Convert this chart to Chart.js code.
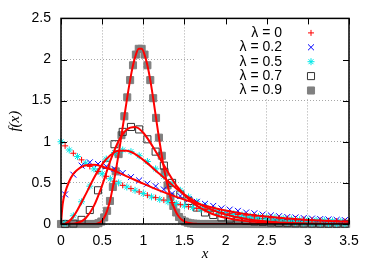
<!DOCTYPE html>
<html>
<head>
<meta charset="utf-8">
<script src="https://cdn.jsdelivr.net/npm/chart.js@4.4.0/dist/chart.umd.min.js"></script>
<style>
  html, body { margin: 0; padding: 0; background: #fff; }
  canvas { display: block; }
</style>
</head>
<body>
<canvas id="c" width="374" height="262"></canvas>
<script>
// legend labels
const lamLabels = ['λ = 0', 'λ = 0.2', 'λ = 0.5', 'λ = 0.7', 'λ = 0.9'];

// axis ticks
const xTicks = [0, 0.5, 1, 1.5, 2, 2.5, 3, 3.5];
const yTicks = [0, 0.5, 1, 1.5, 2, 2.5];

// histogram points, bins of 0.1
const x01 = [0.05, 0.15, 0.25, 0.35, 0.45, 0.55, 0.65, 0.75, 0.85, 0.95,
  1.05, 1.15, 1.25, 1.35, 1.45, 1.55, 1.65, 1.75, 1.85, 1.95,
  2.05, 2.15, 2.25, 2.35, 2.45, 2.55, 2.65, 2.75, 2.85, 2.95,
  3.05, 3.15, 3.25, 3.35, 3.45];
const lam0 = [0.95, 0.86, 0.78, 0.70, 0.64, 0.58, 0.52, 0.47, 0.43, 0.39,
  0.35, 0.32, 0.29, 0.26, 0.235, 0.21, 0.19, 0.175, 0.16, 0.14,
  0.13, 0.115, 0.107, 0.095, 0.088, 0.078, 0.072, 0.065, 0.058, 0.054,
  0.047, 0.044, 0.038, 0.036, 0.031];
const lam02 = [0.36, 0.60, 0.71, 0.75, 0.73, 0.70, 0.67, 0.62, 0.57, 0.53,
  0.49, 0.46, 0.42, 0.37, 0.34, 0.30, 0.27, 0.245, 0.22, 0.19,
  0.175, 0.16, 0.14, 0.13, 0.115, 0.105, 0.095, 0.085, 0.08, 0.072,
  0.066, 0.06, 0.056, 0.05, 0.047];
const lam05 = [0.01, 0.10, 0.27, 0.46, 0.64, 0.79, 0.87, 0.90, 0.88, 0.83,
  0.76, 0.67, 0.58, 0.49, 0.41, 0.33, 0.27, 0.22, 0.18, 0.14,
  0.115, 0.09, 0.075, 0.058, 0.048, 0.037, 0.03, 0.024, 0.018, 0.015,
  0.011, 0.009, 0.007, 0.005, 0.004];
const lam07 = [0, 0.005, 0.05, 0.17, 0.41, 0.72, 0.97, 1.12, 1.18, 1.15,
  1.03, 0.88, 0.71, 0.50, 0.36, 0.28, 0.20, 0.14, 0.11, 0.08,
  0.065, 0.05, 0.04, 0.03, 0.024, 0.018, 0.014, 0.011, 0.008, 0.006,
  0.005, 0.004, 0.003, 0.002, 0.002];

// second block of the λ = 0.5 file (lies on the exponential)
const xE = [0, 0.1, 0.2, 0.3, 0.4, 0.5, 0.6, 0.7, 0.8, 0.9,
  1.0, 1.1, 1.2, 1.3, 1.4, 1.5, 1.6, 1.7, 1.8, 1.9,
  2.0, 2.1, 2.2, 2.3, 2.4, 2.5, 2.6, 2.7, 2.8, 2.9,
  3.0, 3.1, 3.2, 3.3, 3.4];
const lam05b = [1.0, 0.90, 0.82, 0.74, 0.67, 0.61, 0.55, 0.50, 0.45, 0.41,
  0.37, 0.33, 0.30, 0.27, 0.25, 0.22, 0.20, 0.18, 0.165, 0.15,
  0.135, 0.125, 0.11, 0.095, 0.09, 0.083, 0.078, 0.067, 0.061, 0.052,
  0.05, 0.045, 0.044, 0.037, 0.033];

// λ = 0.9, fine bins of 0.035
const xG = [0, 0.035, 0.07, 0.105, 0.14, 0.175, 0.21, 0.245, 0.28, 0.315,
  0.35, 0.385, 0.42, 0.455, 0.49, 0.525, 0.56, 0.595, 0.63, 0.665,
  0.7, 0.735, 0.77, 0.805, 0.84, 0.875, 0.91, 0.945, 0.98, 1.015,
  1.05, 1.085, 1.12, 1.155, 1.19, 1.225, 1.26, 1.295, 1.33, 1.365,
  1.4, 1.435, 1.47, 1.505, 1.54, 1.575, 1.61, 1.645, 1.68, 1.715,
  1.75, 1.785, 1.82, 1.855, 1.89, 1.925, 1.96, 1.995, 2.03, 2.065,
  2.1, 2.135, 2.17, 2.205, 2.24, 2.275, 2.31, 2.345, 2.38, 2.415,
  2.45, 2.485, 2.52, 2.555, 2.59, 2.625, 2.66, 2.695, 2.73, 2.765,
  2.8, 2.835, 2.87, 2.905, 2.94, 2.975, 3.01, 3.045, 3.08, 3.115,
  3.15, 3.185, 3.22, 3.255, 3.29, 3.325, 3.36, 3.395, 3.43, 3.465];
const lam09 = [0, 0, 0, 0, 0, 0, 0, 0, 0, 0,
  0, 0, 0, 0.01, 0.03, 0.08, 0.16, 0.28, 0.45, 0.64,
  0.85, 1.08, 1.31, 1.54, 1.75, 1.93, 2.06, 2.13, 2.13, 2.06,
  1.93, 1.75, 1.53, 1.29, 1.05, 0.83, 0.63, 0.47, 0.33, 0.22,
  0.14, 0.085, 0.05, 0.03, 0.016, 0.008, 0.004, 0.002, 0, 0,
  0, 0, 0, 0, 0, 0, 0, 0, 0, 0,
  0, 0, 0, 0, 0, 0, 0, 0, 0, 0,
  0, 0, 0, 0, 0, 0, 0, 0, 0, 0,
  0, 0, 0, 0, 0, 0, 0, 0, 0, 0,
  0, 0, 0, 0, 0, 0, 0, 0, 0, 0];

// model curves
const xCurve = [0, 0.02, 0.05, 0.1, 0.15, 0.2, 0.3, 0.4, 0.5, 0.6,
  0.7, 0.8, 0.9, 1.0, 1.2, 1.4, 1.6, 1.8, 2.0, 2.25,
  2.5, 2.75, 3.0, 3.25, 3.5];
const fit02 = [0, 0.24, 0.38, 0.52, 0.61, 0.66, 0.715, 0.72, 0.70, 0.665,
  0.625, 0.58, 0.535, 0.49, 0.405, 0.33, 0.265, 0.21, 0.165, 0.12,
  0.09, 0.067, 0.05, 0.037, 0.028];
const fit05 = [0, 0.0005, 0.005, 0.035, 0.09, 0.17, 0.36, 0.56, 0.725, 0.835,
  0.89, 0.89, 0.85, 0.78, 0.607, 0.433, 0.29, 0.186, 0.115, 0.06,
  0.03, 0.015, 0.007, 0.003, 0.0015];
const fit07 = [0, 0, 0, 0.0005, 0.003, 0.012, 0.07, 0.22, 0.47, 0.77,
  1.01, 1.15, 1.18, 1.11, 0.80, 0.47, 0.26, 0.14, 0.075, 0.035,
  0.016, 0.007, 0.003, 0.001, 0];

const pts = (xs, ys) => xs.map((x, i) => ({ x: x, y: ys[i] }));

const marks = [
  { style: 'cross', r: 3, color: '#ff0000', fill: '#ff0000' },
  { style: 'crossRot', r: 4.2, color: '#0000ff', fill: '#0000ff' },
  { style: 'star', r: 3.5, color: '#00e8e8', fill: '#00e8e8' },
  { style: 'rect', r: 5, color: '#333333', fill: 'rgba(0,0,0,0)' },
  { style: 'rect', r: 5, color: '#808080', fill: '#808080' }
];

function markSet(data, m, order) {
  return {
    data: data, showLine: false, order: order, clip: false,
    pointStyle: m.style, pointRadius: m.r, pointBorderWidth: 1,
    pointBorderColor: m.color, pointBackgroundColor: m.fill
  };
}
function curveSet(data) {
  return {
    data: data, showLine: true, order: 0, pointRadius: 0,
    borderColor: '#ff0000', borderWidth: 2, cubicInterpolationMode: 'monotone'
  };
}

function drawMark(ctx, m, cx, cy) {
  ctx.save();
  ctx.strokeStyle = m.color;
  ctx.fillStyle = m.fill;
  ctx.lineWidth = 1;
  ctx.beginPath();
  const r = m.r;
  if (m.style === 'cross' || m.style === 'star') {
    ctx.moveTo(cx - r, cy); ctx.lineTo(cx + r, cy);
    ctx.moveTo(cx, cy - r); ctx.lineTo(cx, cy + r);
  }
  if (m.style === 'crossRot' || m.style === 'star') {
    const d = r * Math.SQRT1_2;
    ctx.moveTo(cx - d, cy - d); ctx.lineTo(cx + d, cy + d);
    ctx.moveTo(cx - d, cy + d); ctx.lineTo(cx + d, cy - d);
  }
  if (m.style === 'rect') {
    const s = r * Math.SQRT1_2;
    ctx.rect(cx - s, cy - s, 2 * s, 2 * s);
    ctx.fill();
  }
  ctx.stroke();
  ctx.restore();
}

// gnuplot-like frame: opaque key, inward mirrored tics, axis labels
const frame = {
  id: 'frame',
  afterDatasetsDraw(chart) {
    const { ctx, chartArea: a, scales: { x, y } } = chart;
    ctx.save();
    ctx.fillStyle = '#fff';
    ctx.fillRect(a.right - 154, a.top, 154, 80);

    ctx.strokeStyle = '#000';
    ctx.lineWidth = 1;
    ctx.beginPath();
    xTicks.forEach(v => {
      const px = Math.round(x.getPixelForValue(v)) + 0.5;
      ctx.moveTo(px, a.bottom); ctx.lineTo(px, a.bottom - 6);
      ctx.moveTo(px, a.top); ctx.lineTo(px, a.top + 6);
    });
    yTicks.forEach(v => {
      const py = Math.round(y.getPixelForValue(v)) + 0.5;
      ctx.moveTo(a.left, py); ctx.lineTo(a.left + 6, py);
      ctx.moveTo(a.right, py); ctx.lineTo(a.right - 6, py);
    });
    ctx.stroke();
    ctx.lineWidth = 1.5;
    ctx.strokeRect(a.left, a.top, a.right - a.left, a.bottom - a.top);

    ctx.fillStyle = '#000';
    ctx.font = '14px "Liberation Sans", Arial, sans-serif';
    ctx.textAlign = 'right';
    ctx.textBaseline = 'middle';
    lamLabels.forEach((t, i) => {
      const ly = a.top + 14.5 + i * 14.4;
      ctx.fillText(t, a.right - 67, ly);
      drawMark(ctx, marks[i], a.right - 38, ly);
    });

    ctx.font = 'italic 15px "Liberation Serif", "DejaVu Serif", serif';
    ctx.textAlign = 'center';
    ctx.fillText('x', (a.left + a.right) / 2, 254);
    ctx.translate(15, (a.top + a.bottom) / 2);
    ctx.rotate(-Math.PI / 2);
    ctx.fillText('f(x)', 0, 0);
    ctx.restore();
  }
};

const tickFont = { family: '"Liberation Sans", Arial, sans-serif', size: 14 };
const plain = v => String(v);

new Chart(document.getElementById('c'), {
  type: 'scatter',
  data: {
    datasets: [
      markSet(pts(xG, lam09), marks[4], 5),
      markSet(pts(x01, lam07), marks[3], 4),
      markSet(pts(x01, lam05), marks[2], 3),
      markSet(pts(xE, lam05b), marks[2], 3),
      markSet(pts(x01, lam02), marks[1], 2),
      markSet(pts(x01, lam0), marks[0], 1),
      curveSet(pts(xCurve, fit02)),
      curveSet(pts(xCurve, fit05)),
      curveSet(pts(xCurve, fit07)),
      curveSet(pts(xG, lam09))
    ]
  },
  options: {
    responsive: false,
    animation: false,
    devicePixelRatio: 1,
    events: [],
    layout: { padding: { top: 17, right: 25, left: 0, bottom: 0 } },
    plugins: { legend: { display: false }, tooltip: { enabled: false } },
    scales: {
      x: {
        type: 'linear', min: 0, max: 3.5,
        afterFit: s => { s.height = 38; },
        afterBuildTicks: s => { s.ticks = xTicks.map(v => ({ value: v })); },
        ticks: { color: '#000', font: tickFont, padding: 9, maxRotation: 0, autoSkip: false, callback: plain },
        grid: { color: '#a8a8a8', lineWidth: 1, drawTicks: false },
        border: { display: false, dash: [1, 2] }
      },
      y: {
        type: 'linear', min: 0, max: 2.5,
        afterFit: s => { s.width = 61; },
        afterBuildTicks: s => { s.ticks = yTicks.map(v => ({ value: v })); },
        ticks: { color: '#000', font: tickFont, padding: 10, callback: plain },
        grid: { color: '#a8a8a8', lineWidth: 1, drawTicks: false },
        border: { display: false, dash: [1, 2] }
      }
    }
  },
  plugins: [frame]
});
</script>
</body>
</html>
